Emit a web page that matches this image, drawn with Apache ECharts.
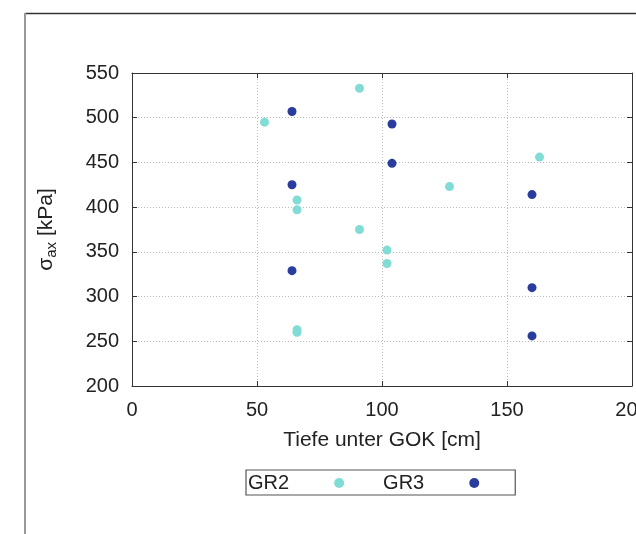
<!DOCTYPE html>
<html>
<head>
<meta charset="utf-8">
<script src="https://cdn.jsdelivr.net/npm/echarts@6/dist/echarts.min.js"></script>
<style>
  html, body { margin: 0; padding: 0; background: #fff; }
  #chart { width: 636px; height: 534px; }
</style>
</head>
<body>
<div id="chart"></div>
<script>
  // Messwerte
  var gr2Depth = [53, 91, 66, 66, 91, 102, 102, 66, 66, 127, 163];
  var gr2Sigma = [495, 533, 408, 397, 375, 352, 337, 263, 260, 423, 456];
  var gr3Depth = [64, 104, 104, 64, 64, 160, 160, 160];
  var gr3Sigma = [507, 493, 449, 425, 329, 414, 310, 256];
  var seriesNames = ['GR2', 'GR3'];

  var FONT = '"Liberation Sans", Arial, Helvetica, sans-serif';

  function pairs(xs, ys) {
    var out = [];
    for (var i = 0; i < xs.length; i++) {
      out.push([xs[i], ys[i]]);
    }
    return out;
  }

  var chart = echarts.init(document.getElementById('chart'));

  var axisLine = { show: true, onZero: false, lineStyle: { color: '#333', width: 1 } };
  var tick = { show: true, inside: true, length: 5, lineStyle: { color: '#333' } };
  var gridLine = { show: true, lineStyle: { color: '#bbb', type: [1, 2], width: 1 } };

  var option = {
    animation: false,
    backgroundColor: '#fff',
    color: ['#80dcd4', '#2a3c9e'],
    textStyle: { fontFamily: FONT },
    grid: { left: 132, right: 4, top: 73, bottom: 148, containLabel: false, outerBoundsMode: 'none' },
    // Rahmen oben/links
    graphic: [{
      type: 'line',
      shape: { x1: 25, y1: 13.5, x2: 640, y2: 13.5 },
      style: { stroke: '#333', lineWidth: 1.5 },
      silent: true
    }, {
      type: 'line',
      shape: { x1: 25, y1: 13, x2: 25, y2: 540 },
      style: { stroke: '#999', lineWidth: 2 },
      silent: true
    }],
    legend: {
      data: seriesNames,
      left: 246,
      top: 470,
      align: 'right',
      icon: 'circle',
      itemWidth: 10,
      itemHeight: 10,
      itemGap: 39,
      padding: [3, 36, 2, 2],
      borderColor: '#555',
      borderWidth: 1.2,
      borderRadius: 0,
      textStyle: { fontFamily: FONT, fontSize: 20, color: '#222', padding: [0, 40, 0, 0] }
    },
    xAxis: [{
      type: 'value',
      min: 0, max: 200, interval: 50,
      name: 'Tiefe unter GOK [cm]',
      nameLocation: 'middle',
      nameGap: 44,
      nameTextStyle: { fontFamily: FONT, fontSize: 21, color: '#222' },
      axisLine: axisLine,
      axisTick: tick,
      axisLabel: { fontFamily: FONT, fontSize: 20, color: '#222', margin: 14, showMaxLabel: true },
      splitLine: gridLine
    }, {
      type: 'value',
      position: 'top',
      min: 0, max: 200, interval: 50,
      axisLine: axisLine,
      axisTick: tick,
      axisLabel: { show: false },
      splitLine: { show: false }
    }],
    yAxis: [{
      type: 'value',
      min: 200, max: 550, interval: 50,
      name: '{a|σ}{b|ax}{a| [kPa]}',
      nameLocation: 'middle',
      nameGap: 73,
      nameRotate: 90,
      nameTextStyle: {
        fontFamily: FONT, color: '#222',
        rich: {
          a: { fontFamily: FONT, fontSize: 21, color: '#222' },
          b: { fontFamily: FONT, fontSize: 15, color: '#222', padding: [10, 0, 0, 0] }
        }
      },
      axisLine: axisLine,
      axisTick: tick,
      axisLabel: { fontFamily: FONT, fontSize: 20, color: '#222', margin: 13 },
      splitLine: gridLine
    }, {
      type: 'value',
      position: 'right',
      min: 200, max: 550, interval: 50,
      axisLine: axisLine,
      axisTick: tick,
      axisLabel: { show: false },
      splitLine: { show: false }
    }],
    series: [{
      name: seriesNames[0],
      type: 'scatter',
      symbol: 'circle',
      symbolSize: 9,
      itemStyle: { opacity: 1 },
      data: pairs(gr2Depth, gr2Sigma)
    }, {
      name: seriesNames[1],
      type: 'scatter',
      symbol: 'circle',
      symbolSize: 9,
      itemStyle: { opacity: 1 },
      data: pairs(gr3Depth, gr3Sigma)
    }]
  };

  chart.setOption(option);
</script>
</body>
</html>
